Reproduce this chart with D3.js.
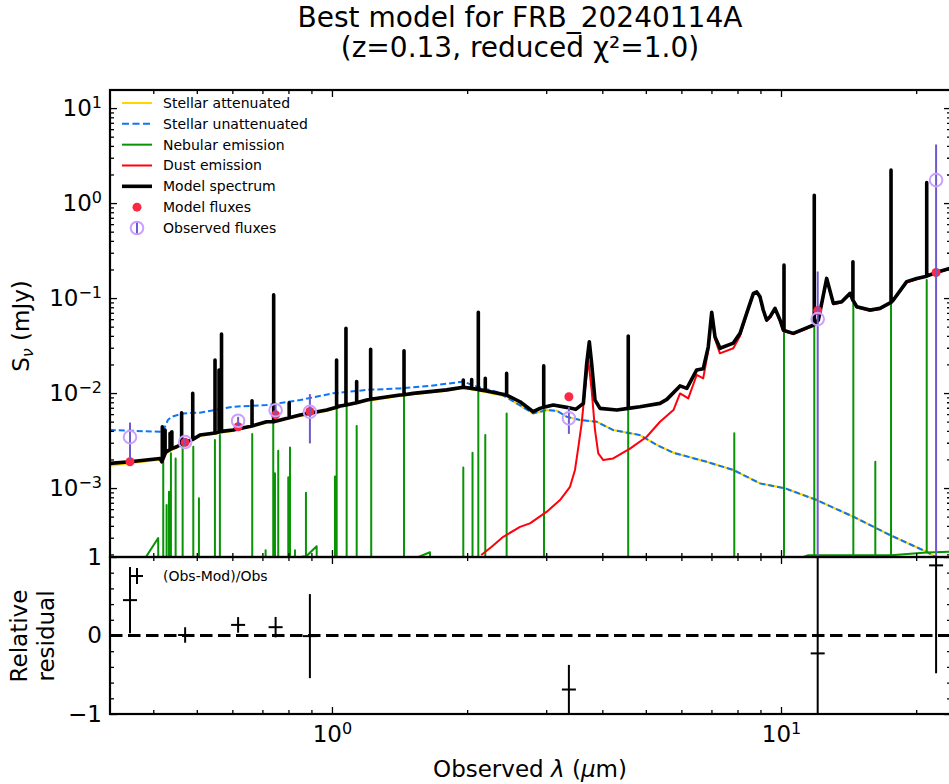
<!DOCTYPE html>
<html><head><meta charset="utf-8">
<script src="https://cdn.jsdelivr.net/npm/d3@7"></script>
<style>body{margin:0;background:#fff} svg{display:block} text{font-family:"DejaVu Sans",sans-serif;fill:#000}</style>
</head><body><svg id="c" width="949" height="784"></svg>
<script>
// ---------------- data (wavelength in micron, flux in mJy) ----------------
const titleLines = ["Best model for FRB_20240114A", "(z=0.13, reduced \u03c7\u00b2=1.0)"];
const xDomain = [0.3204, 23.91];
const yDomain = [1.88e-4, 15.5];
const resDomain = [-1, 1];
const xMajorTicks = [1, 10];
const xMajorLabels = [["10","0"],["10","1"]];
const xMinorTicks = [0.4,0.5,0.6,0.7,0.8,0.9,2,3,4,5,6,7,8,9,20];
const yMajorTicks = [1e-3,1e-2,1e-1,1,10];
const yMajorLabels = [["10","\u22123"],["10","\u22122"],["10","\u22121"],["10","0"],["10","1"]];
const resTicks = [-1,0,1];
const resTickLabels = ["\u22121","0","1"];
const resMinorTicks = [-0.8,-0.6,-0.4,-0.2,0.2,0.4,0.6,0.8];
const legendLabels = ["Stellar attenuated","Stellar unattenuated","Nebular emission","Dust emission","Model spectrum","Model fluxes","Observed fluxes"];

const stellarUnattenuated = [[0.320,4.08e-3],[0.414,3.92e-3],[0.420,3.9e-3],[0.431,5.2e-3],[0.440,5.64e-3],[0.4665,6.11e-3],[0.508,6.21e-3],[0.602,7.18e-3],[0.715,7.48e-3],[0.849,8.44e-3],[1.005,9.93e-3],[1.195,1.08e-2],[1.417,1.12e-2],[1.653,1.19e-2],[1.961,1.32e-2],[2.10,1.17e-2],[2.33,1.03e-2],[2.58,7.79e-3],[2.807,6.11e-3],[3.01,6.62e-3],[3.17,6.51e-3],[3.33,5.64e-3],[3.567,5.20e-3],[3.886,4.99e-3],[4.23,4.08e-3],[4.853,3.61e-3],[5.29,2.84e-3],[5.76,2.35e-3],[6.83,1.89e-3],[7.83,1.55e-3],[8.98,1.12e-3],[10.21,9.93e-4],[12.01,7.48e-4],[14.49,4.99e-4],[17.49,3.20e-4],[21.11,2.13e-4],[23.9,1.5e-4]];

const stellarAttenuated = [[0.320,1.72e-3],[0.355,1.82e-3],[0.414,1.98e-3],[0.418,1.86e-3],[0.427,2.33e-3],[0.451,2.66e-3],[0.4705,2.97e-3],[0.508,3.52e-3],[0.602,3.98e-3],[0.715,4.86e-3],[0.849,5.72e-3],[0.973,6.45e-3],[1.042,7.12e-3],[1.195,8.25e-3],[1.417,9.3e-3],[1.517,9.7e-3],[1.80,1.06e-2],[1.961,1.13e-2],[2.136,1.05e-2],[2.449,9.2e-3],[2.58,7.7e-3],[2.807,6.11e-3],[3.01,6.62e-3],[3.17,6.51e-3],[3.33,5.64e-3],[3.567,5.20e-3],[3.886,4.99e-3],[4.23,4.08e-3],[4.853,3.61e-3],[5.29,2.84e-3],[5.76,2.35e-3],[6.83,1.89e-3],[7.83,1.55e-3],[8.98,1.12e-3],[10.21,9.93e-4],[12.01,7.48e-4],[14.49,4.99e-4],[17.49,3.20e-4],[21.11,2.13e-4],[23.9,1.5e-4]];

const nebularContinuum = [[0.320,1.0e-4],[0.370,1.4e-4],[0.4102,2.98e-4],[0.4106,1.2e-4],[0.86,1.9e-4],[0.9245,2.44e-4],[0.9250,1.2e-4],[1.50,1.75e-4],[1.653,2.11e-4],[1.656,1.0e-4],[9.0,1.6e-4],[11.5,1.96e-4],[21.1,2.1e-4],[23.9,2.14e-4]];
// [wavelength, peak]
const nebularLines = [[0.4210,1.89e-3],[0.4283,6.62e-4],[0.4335,9.14e-4],[0.4379,2.32e-3],[0.4486,2.05e-3],[0.4650,2.72e-3],[0.4911,2.72e-3],[0.5055,7.79e-4],[0.5487,3.20e-3],[0.5629,3.61e-3],[0.6644,3.70e-3],[0.7116,2.22e-4],[0.7400,4.80e-3],[0.7466,1.43e-3],[0.7592,2.47e-3],[0.7993,1.30e-3],[0.8063,2.68e-3],[0.8272,2.22e-4],[0.8751,8.93e-4],[1.0155,1.32e-3],[1.0244,7.18e-3],[1.0782,7.48e-3],[1.1351,4.50e-3],[1.223,8.44e-3],[1.447,9.15e-3],[1.961,1.65e-3],[2.056,2.35e-3],[2.118,1.03e-2],[2.195,3.61e-3],[2.449,6.11e-3],[2.966,6.62e-3],[4.568,6.51e-3],[7.870,3.77e-3],[10.155,4.25e-2],[11.862,5.42e-2],[14.49,8.79e-2],[16.22,1.89e-3],[17.58,9.14e-2],[21.11,0.155]];

const dustEmission = [[2.15,1.97e-4],[2.268,2.41e-4],[2.407,3.07e-4],[2.623,3.9e-4],[2.76,4.25e-4],[3.01,5.64e-4],[3.22,7.48e-4],[3.389,1.03e-3],[3.477,1.55e-3],[3.538,2.72e-3],[3.598,4.8e-3],[3.660,1.08e-2],[3.723,2.2e-2],[3.787,1.08e-2],[3.853,4.08e-3],[3.918,2.32e-3],[4.02,1.97e-3],[4.23,2.05e-3],[4.61,2.6e-3],[5.023,3.47e-3],[5.377,4.99e-3],[5.76,6.62e-3],[5.96,9.9e-3],[6.216,8.79e-3],[6.49,1.55e-2],[6.71,1.43e-2],[6.887,2.8e-2],[7.01,6.90e-2],[7.13,3.7e-2],[7.31,2.62e-2],[7.83,2.96e-2],[8.105,3.98e-2],[8.385,6.7e-2],[8.68,0.110],[8.83,0.113],[8.98,0.101],[9.13,7.3e-2],[9.29,5.73e-2],[9.45,6.2e-2],[9.70,7.57e-2],[9.95,5.7e-2],[10.12,4.5e-2],[10.65,4.18e-2],[11.80,5.08e-2],[12.11,5.73e-2],[12.64,0.158],[13.08,8.6e-2],[13.65,8.97e-2],[14.25,0.110],[14.75,7.95e-2],[15.79,7.3e-2],[16.61,7.65e-2],[17.79,9.4e-2],[19.05,0.146],[20.06,0.158],[22.22,0.184],[23.9,0.204]];

const modelContinuum = [[0.320,1.82e-3],[0.355,1.89e-3],[0.414,2.05e-3],[0.418,1.89e-3],[0.427,2.39e-3],[0.451,2.72e-3],[0.4705,3.03e-3],[0.508,3.61e-3],[0.602,4.08e-3],[0.715,4.99e-3],[0.849,5.87e-3],[0.973,6.62e-3],[1.042,7.30e-3],[1.195,8.44e-3],[1.417,9.53e-3],[1.517,9.93e-3],[1.80,1.08e-2],[1.961,1.15e-2],[2.136,1.08e-2],[2.449,9.53e-3],[2.623,8.10e-3],[2.807,6.36e-3],[2.905,6.90e-3],[3.111,7.48e-3],[3.332,7.07e-3],[3.49,6.74e-3],[3.63,7.79e-3],[3.692,2.05e-2],[3.742,3.47e-2],[3.787,2.05e-2],[3.853,8.44e-3],[3.953,6.9e-3],[4.31,6.62e-3],[4.853,7.18e-3],[5.377,7.79e-3],[5.57,8.58e-3],[5.958,1.19e-2],[6.17,1.12e-2],[6.49,1.75e-2],[6.71,1.8e-2],[6.887,3.07e-2],[7.01,7.1e-2],[7.13,3.9e-2],[7.314,2.96e-2],[7.83,3.36e-2],[8.105,4.25e-2],[8.385,6.9e-2],[8.68,0.112],[8.83,0.116],[8.98,0.103],[9.13,7.48e-2],[9.29,5.87e-2],[9.45,6.35e-2],[9.697,7.79e-2],[9.95,5.87e-2],[10.12,4.61e-2],[10.65,4.25e-2],[11.80,5.20e-2],[12.11,5.87e-2],[12.64,0.161],[13.08,8.79e-2],[13.65,9.14e-2],[14.25,0.112],[14.75,8.10e-2],[15.79,7.48e-2],[16.61,7.79e-2],[17.79,9.53e-2],[19.05,0.149],[20.06,0.161],[22.22,0.187],[23.9,0.207]];
// [wavelength, continuum at line, peak]
const modelLines = [[0.419,1.95e-3,4.42e-3],[0.425,2.3e-3,4.08e-3],[0.436,2.55e-3,3.77e-3],[0.440,2.6e-3,3.92e-3],[0.4626,2.9e-3,6.21e-3],[0.4897,3.25e-3,9.93e-3],[0.549,3.8e-3,2.23e-2],[0.5604,3.9e-3,1.75e-2],[0.5676,3.95e-3,4.18e-2],[0.6637,4.5e-3,8.3e-3],[0.7416,5.0e-3,0.108],[0.803,5.5e-3,7.9e-3],[1.024,7.1e-3,2.23e-2],[1.0744,7.5e-3,4.80e-2],[1.135,7.9e-3,1.32e-2],[1.2194,8.6e-3,2.89e-2],[1.447,9.6e-3,2.79e-2],[1.961,1.15e-2,1.37e-2],[2.047,1.12e-2,1.39e-2],[2.118,1.09e-2,7.07e-2],[2.195,1.06e-2,1.43e-2],[2.449,9.5e-3,1.61e-2],[2.962,7.1e-3,1.94e-2],[4.569,6.9e-3,3.98e-2],[10.155,4.55e-2,0.222],[11.86,5.3e-2,1.21],[14.46,9.5e-2,0.241],[17.58,9.0e-2,2.22],[21.11,0.17,1.64]];

const filterWavelengths = [0.355,0.471,0.618,0.749,0.893,3.37,12.07,22.15];
const observedFluxes = [3.44e-3,3.05e-3,5.11e-3,6.6e-3,6.35e-3,5.42e-3,6.01e-2,1.746];
const observedErrors = [1.45e-3,3.0e-4,5.1e-4,8.6e-4,3.4e-3,1.7e-3,0.13,2.4];
const modelFluxes = [1.89e-3,3.03e-3,4.42e-3,5.9e-3,6.4e-3,9.15e-3,7.38e-2,0.186];

// ---------------- layout ----------------
const L=110, R=951, T1=90, B1=557, T2=557, B2=714;
const col = {att:"#ffd700", unatt:"#0d75f8", neb:"#089404", dust:"#ff000d", model:"#000", modf:"#fb2943", obsEdge:"#caa0ff", obsBar:"#6d5acf"};
const TICKFS = "23px", SUPFS = "16px";

const svg = d3.select("#c");
svg.append("rect").attr("width",949).attr("height",784).attr("fill","#fff");
const x = d3.scaleLog().domain(xDomain).range([L,R]);
const y = d3.scaleLog().domain(yDomain).range([B1,T1]);
const yr = d3.scaleLinear().domain(resDomain).range([B2,T2]);

const defs = svg.append("defs");
defs.append("clipPath").attr("id","clipTop").append("rect").attr("x",L).attr("y",T1).attr("width",R-L).attr("height",B1-T1);
defs.append("clipPath").attr("id","clipBot").append("rect").attr("x",L).attr("y",T2).attr("width",R-L).attr("height",B2-T2);

const line = d3.line().x(d=>x(d[0])).y(d=>y(d[1]));

function withSpikes(cont, lines){
  const items = cont.map(d=>({l:d[0], c:true, d}));
  lines.forEach(d=>items.push({l:d[0], c:false, d}));
  items.sort((a,b)=>a.l-b.l || (a.c? -1:1));
  const out=[]; let last = cont[0][1];
  items.forEach(it=>{
    if(it.c){ out.push(it.d); last=it.d[1]; }
    else if(it.d.length===3){ out.push([it.d[0],it.d[1]],[it.d[0],it.d[2]],[it.d[0],it.d[1]]); }
    else { out.push([it.d[0],last],[it.d[0],it.d[1]],[it.d[0],last]); }
  });
  return out;
}

const gTop = svg.append("g").attr("clip-path","url(#clipTop)");
gTop.append("path").attr("d",line(stellarAttenuated)).attr("fill","none").attr("stroke",col.att).attr("stroke-width",2);
gTop.append("path").attr("d",line(stellarUnattenuated)).attr("fill","none").attr("stroke",col.unatt).attr("stroke-width",2).attr("stroke-dasharray","6,3");
gTop.append("path").attr("d",line(withSpikes(nebularContinuum,nebularLines))).attr("fill","none").attr("stroke",col.neb).attr("stroke-width",2).attr("stroke-linejoin","round");
gTop.append("path").attr("d",line(dustEmission)).attr("fill","none").attr("stroke",col.dust).attr("stroke-width",2).attr("stroke-linejoin","round");
gTop.append("path").attr("d",line(withSpikes(modelContinuum,modelLines))).attr("fill","none").attr("stroke",col.model).attr("stroke-width",3.6).attr("stroke-linejoin","round");

// model fluxes
gTop.selectAll("circle.mf").data(filterWavelengths).join("circle").attr("class","mf")
  .attr("cx",d=>x(d)).attr("cy",(d,i)=>y(modelFluxes[i])).attr("r",4.5).attr("fill",col.modf);
// observed
gTop.selectAll("line.ob").data(filterWavelengths).join("line").attr("class","ob")
  .attr("x1",d=>x(d)).attr("x2",d=>x(d))
  .attr("y1",(d,i)=>{const lo=observedFluxes[i]-observedErrors[i]; return lo>0? y(lo) : B1+10;})
  .attr("y2",(d,i)=>y(observedFluxes[i]+observedErrors[i]))
  .attr("stroke",col.obsBar).attr("stroke-width",2);
gTop.selectAll("circle.ob").data(filterWavelengths).join("circle").attr("class","ob")
  .attr("cx",d=>x(d)).attr("cy",(d,i)=>y(observedFluxes[i])).attr("r",6.3)
  .attr("fill","none").attr("stroke",col.obsEdge).attr("stroke-width",2);

// residuals
const gBot = svg.append("g").attr("clip-path","url(#clipBot)");
gBot.append("line").attr("x1",L).attr("x2",R).attr("y1",yr(0)).attr("y2",yr(0))
  .attr("stroke","#000").attr("stroke-width",3).attr("stroke-dasharray","12.5,5.5");
const res = filterWavelengths.map((w,i)=>({w, r:(observedFluxes[i]-modelFluxes[i])/observedFluxes[i], e:observedErrors[i]/observedFluxes[i]}));
gBot.selectAll("line.re").data(res).join("line").attr("class","re")
  .attr("x1",d=>x(d.w)).attr("x2",d=>x(d.w)).attr("y1",d=>yr(d.r-d.e)).attr("y2",d=>yr(d.r+d.e))
  .attr("stroke","#000").attr("stroke-width",2);
gBot.selectAll("line.rm").data(res).join("line").attr("class","rm")
  .attr("x1",d=>x(d.w)-7).attr("x2",d=>x(d.w)+7).attr("y1",d=>yr(d.r)).attr("y2",d=>yr(d.r))
  .attr("stroke","#000").attr("stroke-width",2);

// ---------------- axes ----------------
function supLabels(g, labels){
  g.selectAll(".tick text").each(function(d,i){
    const t=d3.select(this); t.text(null);
    t.append("tspan").text(labels[i][0]);
    t.append("tspan").attr("dy","-0.5em").attr("font-size",SUPFS).text(labels[i][1]);
  });
}
function styleAxis(g){ g.select(".domain").remove(); g.selectAll(".tick line").attr("stroke","#000").attr("stroke-width",1.3); g.selectAll(".tick text").attr("font-size",TICKFS).attr("font-family","DejaVu Sans"); }

// upper panel x ticks (top & bottom, no labels)
[[T1,1],[B1,-1]].forEach(([yy,s])=>{
  let g=svg.append("g").attr("transform",`translate(0,${yy})`).call((s>0?d3.axisBottom:d3.axisTop)(x).tickValues(xMajorTicks).tickSize(7).tickFormat(""));
  styleAxis(g);
  g=svg.append("g").attr("transform",`translate(0,${yy})`).call((s>0?d3.axisBottom:d3.axisTop)(x).tickValues(xMinorTicks).tickSize(4).tickFormat(""));
  styleAxis(g);
});
// residual x axis
let gx = svg.append("g").attr("transform",`translate(0,${B2})`).call(d3.axisBottom(x).tickValues(xMajorTicks).tickSize(-7).tickPadding(11.5).tickFormat(""));
styleAxis(gx); supLabels(gx, xMajorLabels);
gx = svg.append("g").attr("transform",`translate(0,${B2})`).call(d3.axisBottom(x).tickValues(xMinorTicks).tickSize(-4).tickFormat(""));
styleAxis(gx);
gx = svg.append("g").attr("transform",`translate(0,${T2})`).call(d3.axisBottom(x).tickValues(xMajorTicks).tickSize(7).tickFormat(""));
styleAxis(gx);
gx = svg.append("g").attr("transform",`translate(0,${T2})`).call(d3.axisBottom(x).tickValues(xMinorTicks).tickSize(4).tickFormat(""));
styleAxis(gx);

// upper y axis
const yMinor = [];
[1e-4,1e-3,1e-2,1e-1,1,10].forEach(b=>{ for(let k=2;k<=9;k++) yMinor.push(b*k); });
const yMinorIn = yMinor.filter(v=>v>yDomain[0] && v<yDomain[1]);
let gy = svg.append("g").attr("transform",`translate(${L},0)`).call(d3.axisLeft(y).tickValues(yMajorTicks).tickSize(-7).tickPadding(8).tickFormat(""));
styleAxis(gy); supLabels(gy, yMajorLabels);
gy = svg.append("g").attr("transform",`translate(${L},0)`).call(d3.axisLeft(y).tickValues(yMinorIn).tickSize(-4).tickFormat(""));
styleAxis(gy);
gy = svg.append("g").attr("transform",`translate(${R},0)`).call(d3.axisRight(y).tickValues(yMajorTicks).tickSize(-7).tickFormat(""));
styleAxis(gy);
gy = svg.append("g").attr("transform",`translate(${R},0)`).call(d3.axisRight(y).tickValues(yMinorIn).tickSize(-4).tickFormat(""));
styleAxis(gy);

// residual y axis
gy = svg.append("g").attr("transform",`translate(${L},0)`).call(d3.axisLeft(yr).tickValues(resTicks).tickSize(-7).tickPadding(8).tickFormat((d,i)=>resTickLabels[i]));
styleAxis(gy);
gy = svg.append("g").attr("transform",`translate(${L},0)`).call(d3.axisLeft(yr).tickValues(resMinorTicks).tickSize(-4).tickFormat(""));
styleAxis(gy);
gy = svg.append("g").attr("transform",`translate(${R},0)`).call(d3.axisRight(yr).tickValues(resTicks).tickSize(-7).tickFormat(""));
styleAxis(gy);
gy = svg.append("g").attr("transform",`translate(${R},0)`).call(d3.axisRight(yr).tickValues(resMinorTicks).tickSize(-4).tickFormat(""));
styleAxis(gy);

// spines
svg.append("rect").attr("x",L).attr("y",T1).attr("width",R-L).attr("height",B1-T1).attr("fill","none").attr("stroke","#000").attr("stroke-width",2.2);
svg.append("rect").attr("x",L).attr("y",T2).attr("width",R-L).attr("height",B2-T2).attr("fill","none").attr("stroke","#000").attr("stroke-width",2.2);

// ---------------- texts ----------------
svg.append("text").attr("x",520).attr("y",27).attr("text-anchor","middle").attr("font-size","28px").text(titleLines[0]);
svg.append("text").attr("x",520).attr("y",57).attr("text-anchor","middle").attr("font-size","28px").text(titleLines[1]);

const yl = svg.append("text").attr("transform","translate(29,326) rotate(-90)").attr("text-anchor","middle").attr("font-size","23px");
yl.append("tspan").text("S");
yl.append("tspan").attr("font-size","16px").attr("font-style","italic").attr("dy","4").text("\u03bd");
yl.append("tspan").attr("dy","-4").text(" (mJy)");

svg.append("text").attr("transform","translate(27,636) rotate(-90)").attr("text-anchor","middle").attr("font-size","23px").text("Relative");
svg.append("text").attr("transform","translate(54,636) rotate(-90)").attr("text-anchor","middle").attr("font-size","23px").text("residual");

const xl = svg.append("text").attr("x",530).attr("y",777).attr("text-anchor","middle").attr("font-size","23px");
xl.append("tspan").text("Observed ");
xl.append("tspan").attr("font-style","italic").text("\u03bb");
xl.append("tspan").text(" (");
xl.append("tspan").attr("font-style","italic").text("\u03bc");
xl.append("tspan").text("m)");

// ---------------- legends ----------------
const lg = svg.append("g");
const rowY = i => 103 + i*20.83;
const handles = [
  {c:col.att,w:2,dash:null},{c:col.unatt,w:2,dash:"7,3.5"},{c:col.neb,w:2,dash:null},{c:col.dust,w:2,dash:null},{c:col.model,w:3.6,dash:null}
];
handles.forEach((h,i)=>{
  lg.append("line").attr("x1",122).attr("x2",152).attr("y1",rowY(i)).attr("y2",rowY(i)).attr("stroke",h.c).attr("stroke-width",h.w).attr("stroke-dasharray",h.dash);
});
lg.append("circle").attr("cx",137).attr("cy",rowY(5)).attr("r",4.5).attr("fill",col.modf);
lg.append("line").attr("x1",137).attr("x2",137).attr("y1",rowY(6)-7).attr("y2",rowY(6)+7).attr("stroke",col.obsBar).attr("stroke-width",2);
lg.append("circle").attr("cx",137).attr("cy",rowY(6)).attr("r",6.3).attr("fill","none").attr("stroke",col.obsEdge).attr("stroke-width",2);
legendLabels.forEach((t,i)=>{
  lg.append("text").attr("x",163).attr("y",rowY(i)+5).attr("font-size","14px").text(t);
});
// residual legend
lg.append("line").attr("x1",137).attr("x2",137).attr("y1",568).attr("y2",584).attr("stroke","#000").attr("stroke-width",2);
lg.append("line").attr("x1",131).attr("x2",143).attr("y1",576).attr("y2",576).attr("stroke","#000").attr("stroke-width",2);
lg.append("text").attr("x",163).attr("y",581).attr("font-size","14px").text("(Obs-Mod)/Obs");
</script></body></html>
